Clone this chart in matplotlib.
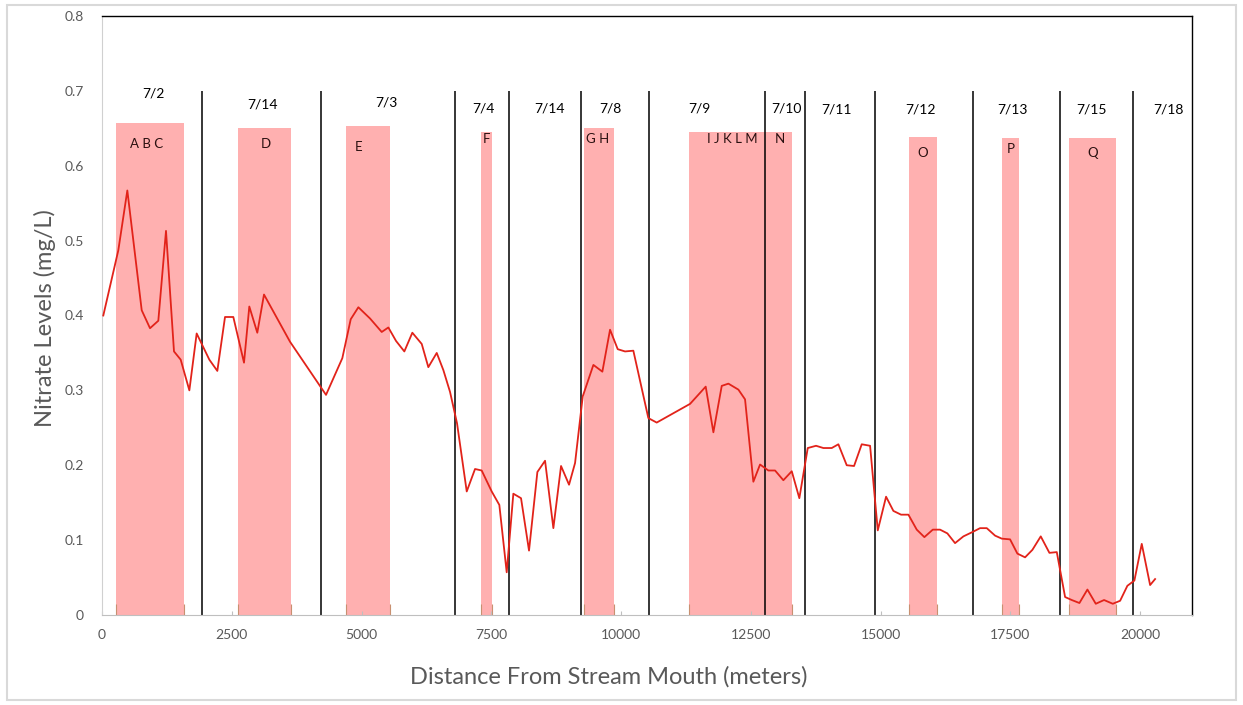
import matplotlib
matplotlib.use("Agg")
import matplotlib.pyplot as plt
from matplotlib.patches import Rectangle

plt.rcParams['font.family'] = ['Lato', 'DejaVu Sans']

# ---- data ----
distance = [25, 314, 488, 765, 925, 1085, 1233, 1387, 1516, 1683, 1824, 2068, 2222,
            2370, 2530, 2736, 2838, 2992, 3121, 3622, 4316, 4630, 4792, 4939, 5164,
            5389, 5517, 5665, 5825, 5979, 6160, 6287, 6449, 6577, 6705, 6840, 7027,
            7187, 7315, 7508, 7655, 7797, 7925, 8073, 8227, 8388, 8536, 8696, 8844,
            8998, 9114, 9262, 9467, 9640, 9788, 9936, 10077, 10237, 10526, 10687,
            11330, 11631, 11779, 11940, 12068, 12261, 12389, 12549, 12678, 12838,
            12967, 13127, 13289, 13435, 13597, 13757, 13898, 14059, 14187, 14348,
            14489, 14637, 14798, 14946, 15106, 15247, 15395, 15536, 15697, 15844,
            16006, 16146, 16287, 16435, 16596, 16776, 16917, 17046, 17206, 17335,
            17495, 17636, 17784, 17925, 18086, 18253, 18395, 18555, 18684, 18831,
            18985, 19146, 19306, 19474, 19615, 19755, 19890, 20032, 20193, 20289]
nitrate = [0.400, 0.487, 0.567, 0.407, 0.383, 0.393, 0.513, 0.352, 0.341, 0.300, 0.376,
           0.341, 0.326, 0.398, 0.398, 0.337, 0.412, 0.377, 0.428, 0.365, 0.294, 0.343,
           0.395, 0.411, 0.396, 0.378, 0.384, 0.366, 0.352, 0.377, 0.362, 0.331, 0.350,
           0.327, 0.298, 0.256, 0.165, 0.195, 0.193, 0.165, 0.147, 0.057, 0.162, 0.156,
           0.086, 0.191, 0.206, 0.116, 0.199, 0.174, 0.203, 0.292, 0.334, 0.325, 0.381,
           0.355, 0.352, 0.353, 0.263, 0.257, 0.282, 0.305, 0.244, 0.306, 0.309, 0.301,
           0.288, 0.178, 0.201, 0.193, 0.193, 0.180, 0.192, 0.156, 0.223, 0.226, 0.223,
           0.223, 0.228, 0.200, 0.199, 0.228, 0.226, 0.113, 0.158, 0.139, 0.134, 0.134,
           0.114, 0.104, 0.114, 0.114, 0.109, 0.096, 0.105, 0.111, 0.116, 0.116, 0.106,
           0.102, 0.101, 0.082, 0.077, 0.087, 0.105, 0.083, 0.084, 0.024, 0.020, 0.016,
           0.034, 0.015, 0.020, 0.015, 0.019, 0.039, 0.046, 0.095, 0.040, 0.048]

# day boundaries (vertical black lines)
day_bounds = [1920, 4210, 6810, 7840, 9230, 10530, 12780, 13550, 14890, 16790, 18460, 19860]
day_bound_top = 0.70

# day labels
day_labels = ['7/2', '7/14', '7/3', '7/4', '7/14', '7/8', '7/9', '7/10', '7/11',
              '7/12', '7/13', '7/15', '7/18']
day_label_x = [983, 3083, 5472, 7341, 8613, 9788, 11503, 13179, 14143, 15761, 17534,
               19056, 20539]
day_label_y = [0.697, 0.682, 0.685, 0.676, 0.676, 0.676, 0.676, 0.676, 0.675, 0.675,
               0.675, 0.675, 0.675]

# shaded sites
site_labels = ['A B C', 'D', 'E', 'F', 'G H', 'I J K L M', 'N', 'O', 'P', 'Q']
site_label_x = [867, 3160, 4952, 7399, 9538, 12139, 13064, 15819, 17514, 19094]
site_label_y = [0.629, 0.629, 0.625, 0.636, 0.636, 0.636, 0.636, 0.617, 0.622, 0.617]
band_start = [270, 2620, 4701, 7303, 9287, 11310, 15549, 17341, 18632]
band_end = [1580, 3642, 5549, 7514, 9865, 13295, 16089, 17669, 19538]
band_top = [0.657, 0.651, 0.653, 0.645, 0.651, 0.645, 0.639, 0.637, 0.637]

x_ticks = [0, 2500, 5000, 7500, 10000, 12500, 15000, 17500, 20000]
y_ticks = [0, 0.1, 0.2, 0.3, 0.4, 0.5, 0.6, 0.7, 0.8]

# ---- figure ----
W, H = 1243, 705
fig = plt.figure(figsize=(W / 100, H / 100), dpi=100)
ax = fig.add_axes([102 / W, 1 - 615 / H, (1192 - 102) / W, (615 - 16) / H])

for s, e, t in zip(band_start, band_end, band_top):
    ax.bar(s, t, width=e - s, align='edge', color='#ffb0b0', edgecolor='none', zorder=1)
    ax.vlines([s, e], 0, 0.015, color='#c89070', lw=0.8, zorder=1.5)

ax.vlines(day_bounds, 0, day_bound_top, color='black', lw=1.1, zorder=2)

ax.plot(distance, nitrate, color='#e2231a', lw=1.3, zorder=3)

for lab, x, y in zip(day_labels, day_label_x, day_label_y):
    ax.text(x, y, lab, ha='center', va='center', fontsize=10, color='black', zorder=4)
for lab, x, y in zip(site_labels, site_label_x, site_label_y):
    ax.text(x, y, lab, ha='center', va='center', fontsize=9.5, color='#2a1010', zorder=4)

ax.set_xlim(0, 21000)
ax.set_ylim(0, 0.8)
ax.set_xticks(x_ticks)
ax.set_xticklabels([str(v) for v in x_ticks])
ax.set_yticks(y_ticks)
ax.set_yticklabels(['0'] + [f'{v:.1f}' for v in y_ticks[1:]])
ax.tick_params(axis='x', direction='in', length=3, color='#bfbfbf', labelsize=10,
               labelcolor='#595959', pad=10)
ax.tick_params(axis='y', length=0, labelsize=10, labelcolor='#595959', pad=13)

for side in ['top', 'right']:
    ax.spines[side].set_color('black')
    ax.spines[side].set_linewidth(1.0)
ax.spines['left'].set_color('#d0d0d0')
ax.spines['bottom'].set_color('#bfbfbf')

xl = ax.set_xlabel('Distance From Stream Mouth (meters)', fontsize=17, color='#595959')
xl.set_va('center')
ax.xaxis.set_label_coords(0.465, -0.103)
yl = ax.set_ylabel('Nitrate Levels (mg/L)', fontsize=17, color='#595959')
yl.set_va('center')
ax.yaxis.set_label_coords(-0.052, 0.496)

fig.add_artist(Rectangle((7 / W, 1 - 700 / H), (1236 - 7) / W, (700 - 5) / H,
                         transform=fig.transFigure, fill=False, edgecolor='#d9d9d9', lw=1.5))

fig.savefig('out.png', dpi=100)
